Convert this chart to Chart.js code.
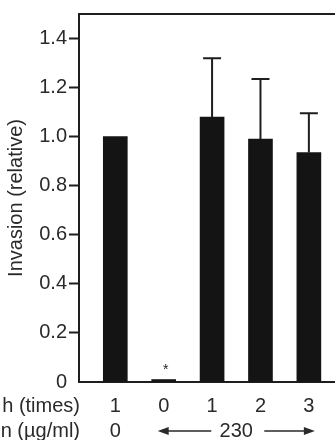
<!DOCTYPE html>
<html>
<head>
<meta charset="utf-8">
<script src="https://cdn.jsdelivr.net/npm/chart.js@4/dist/chart.umd.min.js"></script>
<style>
  html, body { margin: 0; padding: 0; background: #fff; overflow: hidden; }
  canvas { display: block; }
</style>
</head>
<body>
<canvas id="invasionChart" width="335" height="440"></canvas>
<script>
// Data
const washLabels = ['1', '0', '1', '2', '3'];          // "...h (times)" row
const invasionValues = [1.0, 0.01, 1.08, 0.99, 0.935]; // relative invasion
const errorUp = [0, 0, 0.24, 0.245, 0.16];             // upper error bars
const sigMarks = ['', '*', '', '', ''];
const rowTitles = ['h (times)', 'n (\u00b5g/ml)'];
const doseLabel0 = '0';
const doseLabelRest = '230';
const yTicks = [0, 0.2, 0.4, 0.6, 0.8, 1.0, 1.2, 1.4];

const FONT = "'Liberation Sans', Arial, sans-serif";
const INK = '#1e1e1e';

document.addEventListener('DOMContentLoaded', function() {
  const ctx = document.getElementById('invasionChart').getContext('2d');

  // error bars, asterisk, top frame line and bottom labels
  const extras = {
    id: 'extras',
    afterDatasetsDraw(chart) {
      const c = chart.ctx;
      const x = chart.scales.x, y = chart.scales.y;
      const area = chart.chartArea;
      const meta = chart.getDatasetMeta(0);

      c.save();
      // top frame line
      c.strokeStyle = INK;
      c.lineWidth = 2;
      c.beginPath();
      c.moveTo(area.left - 1, area.top);
      c.lineTo(area.right, area.top);
      c.stroke();

      // error bars (upper only)
      c.lineWidth = 2;
      meta.data.forEach((bar, i) => {
        if (!errorUp[i]) return;
        const yb = y.getPixelForValue(invasionValues[i]);
        const yt = y.getPixelForValue(invasionValues[i] + errorUp[i]);
        c.beginPath();
        c.moveTo(bar.x, yb);
        c.lineTo(bar.x, yt);
        c.moveTo(bar.x - 9, yt);
        c.lineTo(bar.x + 9, yt);
        c.stroke();
      });

      // significance marks
      c.fillStyle = INK;
      c.font = '14px ' + FONT;
      c.textAlign = 'center';
      c.textBaseline = 'middle';
      meta.data.forEach((bar, i) => {
        if (!sigMarks[i]) return;
        c.fillText(sigMarks[i], bar.x + 2, y.getPixelForValue(invasionValues[i]) - 9);
      });

      // bottom label rows
      const row1 = 406, row2 = 431;
      c.font = '20px ' + FONT;
      c.fillStyle = '#2a2a2a';
      c.textAlign = 'right';
      c.fillText(rowTitles[0], 80, row1);
      c.fillText(rowTitles[1], 80, row2);

      c.textAlign = 'center';
      washLabels.forEach((lab, i) => {
        c.fillText(lab, x.getPixelForValue(i), row1);
      });
      c.fillText(doseLabel0, x.getPixelForValue(0), row2);

      const xa = x.getPixelForValue(1) - 6;
      const xb = x.getPixelForValue(4) + 6;
      const mid = (xa + xb) / 2;
      c.fillText(doseLabelRest, mid, row2);

      // arrows
      c.strokeStyle = '#2a2a2a';
      c.lineWidth = 1.5;
      const aL = mid - 25, aR = mid + 28;
      c.beginPath();
      c.moveTo(xa + 8, row2);
      c.lineTo(aL, row2);
      c.moveTo(aR, row2);
      c.lineTo(xb - 8, row2);
      c.stroke();
      c.beginPath();
      c.moveTo(xa, row2);
      c.lineTo(xa + 11, row2 - 4);
      c.lineTo(xa + 11, row2 + 4);
      c.closePath();
      c.moveTo(xb, row2);
      c.lineTo(xb - 11, row2 - 4);
      c.lineTo(xb - 11, row2 + 4);
      c.closePath();
      c.fill();
      c.restore();
    }
  };

  new Chart(ctx, {
    type: 'bar',
    data: {
      datasets: [{
        data: invasionValues.map((v, i) => ({ x: i, y: v })),
        backgroundColor: '#141414',
        borderWidth: 0,
        barThickness: 24
      }]
    },
    options: {
      responsive: false,
      animation: false,
      events: [],
      layout: { padding: { top: 14, right: 0, left: 0, bottom: 0 } },
      plugins: { legend: { display: false }, tooltip: { enabled: false } },
      scales: {
        x: {
          type: 'linear',
          offset: false,
          min: -0.75,
          max: 4.54,
          ticks: { display: false },
          grid: { display: false, drawTicks: false },
          border: { display: true, color: INK, width: 2 },
          afterFit: s => { s.height = 58; }
        },
        y: {
          min: 0,
          max: 1.5,
          afterBuildTicks: s => { s.ticks = yTicks.map(v => ({ value: v })); },
          ticks: {
            color: '#2a2a2a',
            font: { family: FONT, size: 20 },
            padding: 2,
            callback: v => v === 0 ? '0' : v.toFixed(1)
          },
          grid: {
            drawOnChartArea: false,
            drawTicks: true,
            tickLength: 10,
            tickWidth: 2,
            tickColor: c => c.tick && c.tick.value === 0 ? 'rgba(0,0,0,0)' : INK
          },
          border: { display: true, color: INK, width: 2 },
          title: {
            display: true,
            text: 'Invasion (relative)',
            color: '#2a2a2a',
            font: { family: FONT, size: 20 },
            padding: { top: 4, bottom: 0 }
          },
          afterFit: s => { s.width = 79; }
        }
      }
    },
    plugins: [extras]
  });
});
</script>
</body>
</html>
